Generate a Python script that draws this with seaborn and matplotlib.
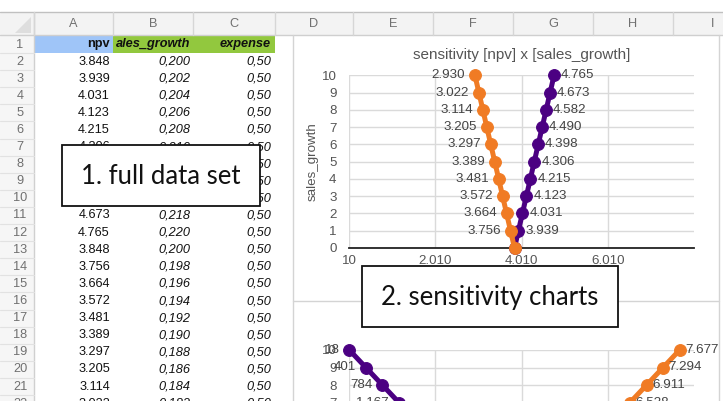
import matplotlib
matplotlib.use("Agg")
import matplotlib.pyplot as plt
from matplotlib.patches import Rectangle, Polygon
import seaborn as sns
import pandas as pd

# ---------------- data ----------------
col_letters = ["A", "B", "C", "D", "E", "F", "G", "H", "I"]
headers = ["npv", "ales_growth", "expense"]
npv_col = ["3.848", "3.939", "4.031", "4.123", "4.215", "4.306", "4.398", "4.490",
           "4.582", "4.673", "4.765", "3.848", "3.756", "3.664", "3.572", "3.481",
           "3.389", "3.297", "3.205", "3.114", "3.022"]
growth_col = ["0,200", "0,202", "0,204", "0,206", "0,208", "0,210", "0,212", "0,214",
              "0,216", "0,218", "0,220", "0,200", "0,198", "0,196", "0,194", "0,192",
              "0,190", "0,188", "0,186", "0,184", "0,182"]
expense_col = ["0,50"] * 21

steps = [0, 1, 2, 3, 4, 5, 6, 7, 8, 9, 10]
growth_down = [3848, 3756, 3664, 3572, 3481, 3389, 3297, 3205, 3114, 3022, 2930]
growth_up = [3848, 3939, 4031, 4123, 4215, 4306, 4398, 4490, 4582, 4673, 4765]
expense_up = [3848, 3465, 3082, 2699, 2316, 1933, 1550, 1167, 784, 401, 18]
expense_down = [3848, 4231, 4614, 4997, 5380, 5763, 6145, 6528, 6911, 7294, 7677]
x_ticks = [10, 2010, 4010, 6010]
x_tick_labels = ["10", "2.010", "4.010", "6.010"]
title1 = "sensitivity [npv] x [sales_growth]"
ylabel1 = "sales_growth"
box1_text = "1. full data set"
box2_text = "2. sensitivity charts"

ORANGE = "#F07B24"
PURPLE = "#4B0082"
W, H = 723, 401

sns.set_theme(style="white")
plt.rcParams["font.family"] = ["Liberation Sans", "DejaVu Sans"]

fig = plt.figure(figsize=(W / 100, H / 100), dpi=100)
bg = fig.add_axes([0, 0, 1, 1])
bg.set_xlim(0, W)
bg.set_ylim(H, 0)
bg.axis("off")

# column header band
bg.add_patch(Rectangle((0, 12), W, 23, fc="#f3f3f3", ec="none", zorder=0))
bg.plot([0, W], [12, 12], color="#c0c0c0", lw=1.0)
bg.plot([0, W], [35, 35], color="#cfcfcf", lw=1.0)
# row header band
bg.add_patch(Rectangle((0, 35), 34, H - 35, fc="#f6f6f6", ec="none", zorder=0))
bg.plot([34, 34], [12, H], color="#d0d0d0", lw=1.0)
# corner triangle
bg.add_patch(Polygon([[31, 17], [31, 33], [15, 33]], closed=True, fc="#dedede", ec="none"))

col_bounds = [34, 113, 193, 275, 353, 433, 513, 593, 673, 753]
for xb in col_bounds:
    bg.plot([xb, xb], [12, 35], color="#d6d6d6", lw=1.0)
for i, letter in enumerate(col_letters):
    xc = (col_bounds[i] + col_bounds[i + 1]) / 2
    bg.text(xc, 24, letter, ha="center", va="center", fontsize=9.2, color="#707070")

row_h = 17.1
row1_c = 44.5
for r in range(1, 23):
    yc = row1_c + (r - 1) * row_h
    bg.text(20, yc, str(r), ha="center", va="center", fontsize=9.2, color="#707070")
    bg.plot([0, 34], [yc + row_h / 2, yc + row_h / 2], color="#e2e2e2", lw=0.8)

# header row 1
bg.add_patch(Rectangle((34, 35.5), 79, 17.2, fc="#9fc5f8", ec="none"))
bg.add_patch(Rectangle((113, 35.5), 162, 17.2, fc="#92c83e", ec="none"))
bg.text(110, row1_c, headers[0], ha="right", va="center", fontsize=9.2, fontweight="bold", color="#111111")
bg.text(190, row1_c, headers[1], ha="right", va="center", fontsize=9.2, fontweight="bold", style="italic", color="#111111")
bg.text(271, row1_c, headers[2], ha="right", va="center", fontsize=9.2, fontweight="bold", style="italic", color="#111111")

for i in range(len(npv_col)):
    yc = row1_c + (i + 1) * row_h
    bg.text(110, yc, npv_col[i], ha="right", va="center", fontsize=9.2, color="#111111")
    bg.text(190, yc, growth_col[i], ha="right", va="center", fontsize=9.2, style="italic", color="#111111")
    bg.text(271, yc, expense_col[i], ha="right", va="center", fontsize=9.2, style="italic", color="#111111")

# chart containers
bg.add_patch(Rectangle((293, 35.5), 426, H, fc="white", ec="none", zorder=1))
bg.plot([293, 293], [35, H], color="#d4d4d4", lw=1.0, zorder=2)
bg.plot([719, 719], [35, H], color="#d4d4d4", lw=1.0, zorder=2)
bg.plot([293, 719], [301, 301], color="#d4d4d4", lw=1.0, zorder=2)


def fpos(x0, x1, ytop, ybot):
    return [x0 / W, 1 - ybot / H, (x1 - x0) / W, (ybot - ytop) / H]


def style_chart(ax):
    ax.set_xlim(10, 8010)
    ax.set_ylim(0, 10)
    ax.set_xticks(x_ticks)
    ax.set_xticklabels(x_tick_labels)
    ax.set_yticks(steps)
    ax.set_yticklabels([str(s) for s in steps])
    ax.grid(True, color="#dadada", lw=1.0)
    ax.set_axisbelow(True)
    for s in ["left", "right", "top"]:
        ax.spines[s].set_visible(False)
    ax.spines["bottom"].set_color("#222222")
    ax.spines["bottom"].set_linewidth(1.3)
    ax.tick_params(axis="both", length=0, labelsize=9.6, labelcolor="#555555")
    ax.tick_params(axis="x", pad=5)
    ax.tick_params(axis="y", pad=9)
    ax.patch.set_alpha(0)
    ax.set_xlabel("")
    ax.set_ylabel("")


def series(ax, xs, color, side, dx):
    df = pd.DataFrame({"npv": xs, "step": steps})
    sns.lineplot(data=df, x="npv", y="step", sort=False, estimator=None, ax=ax,
                 color=color, lw=3.6, marker="o", markersize=8.5,
                 markeredgecolor=color, clip_on=False, zorder=3)
    for xv, yv in zip(xs, steps):
        if yv == 0:
            continue
        lab = f"{xv / 1000:.3f}" if xv >= 1000 else str(xv)
        ax.annotate(lab, (xv, yv), xytext=(dx, 0), textcoords="offset points",
                    ha=side, va="center", fontsize=9.6, color="#444444", zorder=4,
                    annotation_clip=False)


# chart 1
ax1 = fig.add_axes(fpos(349, 694, 75.3, 248))
style_chart(ax1)
series(ax1, growth_up, PURPLE, "left", 5)
series(ax1, growth_down, ORANGE, "right", -7)
ax1.set_xlim(10, 8010)
ax1.set_ylim(0, 10)
ax1.set_xlabel("")
ax1.set_ylabel(ylabel1, fontsize=9.6, color="#555555", labelpad=2)
ax1.set_title(title1, fontsize=11, color="#555555", pad=12)

# chart 2
ax2 = fig.add_axes(fpos(349, 694, 350, 525))
style_chart(ax2)
series(ax2, expense_up, PURPLE, "right", -7)
series(ax2, expense_down, ORANGE, "left", 4)
ax2.set_xlim(10, 8010)
ax2.set_ylim(0, 10)
ax2.set_xlabel("")
ax2.set_ylabel("")

# overlay boxes
ov = fig.add_axes([0, 0, 1, 1], zorder=10)
ov.set_xlim(0, W)
ov.set_ylim(H, 0)
ov.axis("off")
ov.patch.set_alpha(0)
ov.add_patch(Rectangle((62, 145), 198, 61, fc="white", ec="#111111", lw=1.3))
ov.text(161, 176, box1_text, ha="center", va="center", fontsize=18.5, color="#111111",
        family=["Lato", "DejaVu Sans"])
ov.add_patch(Rectangle((362, 266), 256, 61, fc="white", ec="#111111", lw=1.3))
ov.text(490, 297, box2_text, ha="center", va="center", fontsize=18.5, color="#111111",
        family=["Lato", "DejaVu Sans"])

fig.savefig("out.png", dpi=100)
